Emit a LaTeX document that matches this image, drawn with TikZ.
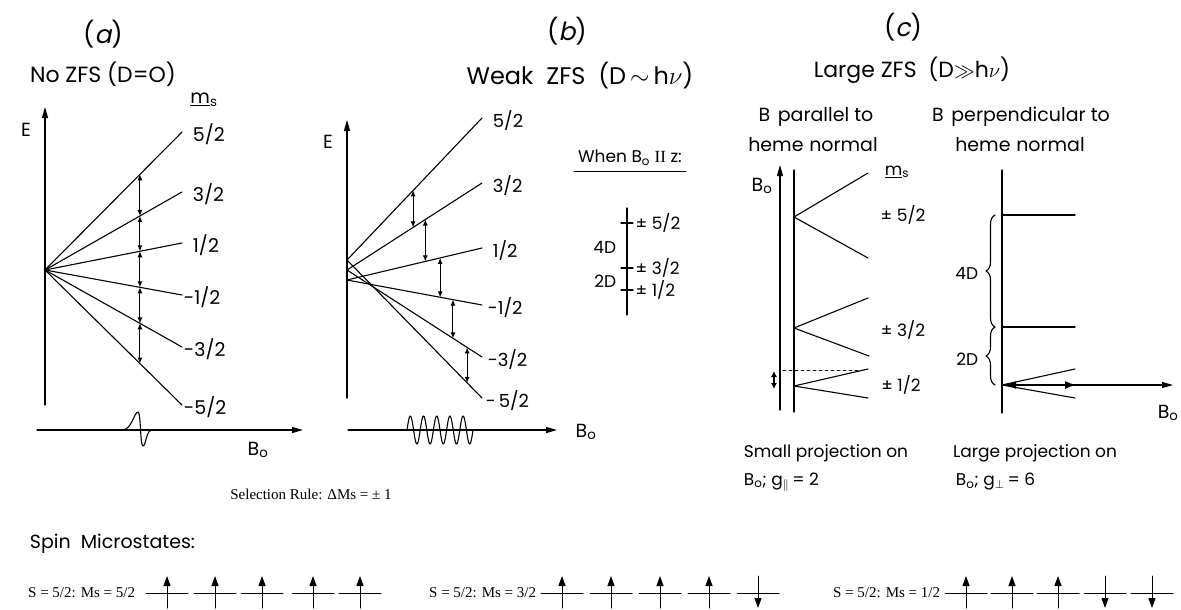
\documentclass[tikz,border=0pt]{standalone}
\usepackage{fontspec}
\setmainfont{Poppins}
\newfontfamily\serif{Liberation Serif}
\newfontfamily\slantsf[FakeSlant=0.2]{Poppins}
\usetikzlibrary{arrows.meta,calc,decorations.pathreplacing}
\newcommand\Bsub{B\textsubscript{o}}
\tikzset{
  lvl/.style={line width=1.1pt},
  axis/.style={-{Triangle[length=11pt,width=6pt]}, line width=1.3pt},
  dbl/.style={{Latex[length=6pt,width=5pt]}-{Latex[length=6pt,width=5pt]}, line width=1pt},
  ttl/.style={font=\fontsize{25}{28}\selectfont},
  lbl/.style={font=\fontsize{17}{20}\selectfont},
  big/.style={font=\fontsize{19}{22}\selectfont},
  srf/.style={font=\serif\fontsize{15}{17}\selectfont},
  brc/.style={decorate, decoration={brace, amplitude=9pt}, line width=1.1pt},
  orb/.style={line width=1pt},
  spin/.style={-{Triangle[length=10pt,width=7pt]}, line width=1pt},
}
\begin{document}
\begin{tikzpicture}[x=1pt, y=-1pt, line cap=round, line join=round, lvl, lbl]

\path[use as bounding box, fill=white] (0,0) rectangle (1181,610);

% panel (a): no zero-field splitting
\node[ttl] (capa) at (103,34) {({\slantsf a})};
\node[font=\fontsize{22}{25}\selectfont] (ttla) at (103,74) {No ZFS (D=O)};
\node[big] (msa) at (204,100) {\underline{m}\textsubscript{s}};
\node[big] (Ea) at (26,130) {E};
\coordinate (a0) at (45,270);
\draw[axis] (45,405) -- (45,107);
\foreach \i/\y/\xl/\lab in {1/132/189/{5/2}, 2/192/189/{3/2}, 3/243/189/{1/2},
                            4/295/180/{-1/2}, 5/347/180/{-3/2}, 6/405/180/{-5/2}} {
  \draw (a0) -- (182,\y) coordinate (ae\i);
  \node[big, anchor=west] (la\i) at (\xl,\y+2) {\lab};
}
\foreach \i in {1,...,5} {
  \pgfmathtruncatemacro\j{\i+1}
  \draw[dbl] ($(a0)!0.693!(ae\i)$) -- ($(a0)!0.693!(ae\j)$);
}
\draw[axis] (37,430) -- (303,430);
\node[big] (Ba) at (258,450) {\Bsub};
\draw (122,430) .. controls (132,430) and (134,412) .. (138,412)
      .. controls (141,412) and (140,446) .. (143,446)
      .. controls (146,446) and (146,430) .. (152,430);

% panel (b): weak zero-field splitting
\node[ttl] (capb) at (567,31) {({\slantsf b})};
\node[ttl, font=\fontsize{24}{27}\selectfont] (ttlb) at (580,76) {Weak\ \ ZFS\ \ (D\,$\sim$\,h$\nu$)};
\node[big] (Eb) at (328,142) {E};
\draw[axis] (347,398) -- (347,120);
\coordinate (b5) at (347,260);
\coordinate (b3) at (347,270);
\coordinate (b1) at (347,280);
\foreach \i/\s/\y/\xl/\lab in {1/b5/118/489/{5/2}, 2/b3/183/489/{3/2}, 3/b1/248/489/{1/2},
                               4/b1/305/484/{-1/2}, 5/b3/357/484/{-3/2}, 6/b5/398/482/{-\,5/2}} {
  \coordinate (bs\i) at (\s);
  \draw (\s) -- (482,\y) coordinate (be\i);
  \node[anchor=west, font=\fontsize{18}{20}\selectfont] (lb\i) at (\xl,\y+3) {\lab};
}
\foreach \i/\t in {1/0.49, 2/0.58, 3/0.69, 4/0.785, 5/0.89} {
  \pgfmathtruncatemacro\j{\i+1}
  \draw[dbl] ($(bs\i)!\t!(be\i)$) -- ($(bs\j)!\t!(be\j)$);
}
\draw[axis] (348,430) -- (557,430);
\node[big] (Bb) at (586,432) {\Bsub};
\draw plot[domain=0:66, samples=160, smooth] ({407+\x}, {430-14*sin(27.27*\x)});

% field along z
\node (when) at (630,158) {When \Bsub\ {\serif II} z:};
\draw ([yshift=-2pt]when.south west) -- ([yshift=-2pt]when.south east);
\draw (627,208) -- (627,315);
\foreach \y/\lab in {223/{± 5/2}, 268/{± 3/2}, 290/{± 1/2}} {
  \draw (621,\y) -- (633,\y);
  \node[anchor=west, inner sep=1pt] at (634,\y) {\lab};
}
\node[anchor=east] (fourD) at (620,247) {4D};
\node[anchor=east] (twoD) at (620,281) {2D};

% panel (c): large zero-field splitting
\node[ttl] (capc) at (903,27) {({\slantsf c})};
\node[font=\fontsize{22}{25}\selectfont] (ttlc) at (912,70) {Large ZFS\ \ (D$\gg$h$\nu$)};
\node[big] (parA) at (816,117) {B\hspace{0.4em}parallel to};
\node[big] (parB) at (813,145) {heme\hspace{0.3em}normal};
\node[big] (perA) at (1021,117) {B\hspace{0.4em}perpendicular to};
\node[big] (perB) at (1020,145) {heme\hspace{0.3em}normal};

% B parallel to heme normal
\draw[axis] (780,410) -- (780,165);
\node[big] (Bc) at (762,186) {\Bsub};
\draw (794,170) -- (794,412);
\coordinate (c5) at (794,217);
\coordinate (c3) at (794,328);
\coordinate (c1) at (794,386);
\draw (868,173) -- (c5) -- (868,258);
\draw (868,298) -- (c3) -- (869,356);
\draw (868,369) -- (c1) -- (868,398);
\draw[dashed, line width=0.9pt] (783,370) -- (860,370);
\draw[{Latex[length=6pt,width=6pt]}-{Latex[length=6pt,width=6pt]}] (774,371) -- (774,389);
\node (msc) at (897,172) {\underline{m}\textsubscript{s}};
\node (lc5) at (903,215) {± 5/2};
\node (lc3) at (903,330) {± 3/2};
\node (lc1) at (901,385) {± 1/2};

% B perpendicular to heme normal
\draw (1002,170) -- (1002,413);
\coordinate (d0) at (1002,385);
\draw (1002,215) -- (1075,215);
\draw (1002,327) -- (1075,327);
\draw (1075,369) -- (d0) -- (1075,398);
\draw[axis] (d0) -- (1173,385);
\node[big, anchor=east, inner sep=1pt] (Bd) at (1180,413) {\Bsub};
\draw[{Latex[length=12pt,width=8pt]}-{Latex[length=12pt,width=8pt]}, line width=2.4pt] (1004,385) -- (1077,385);
\draw[brc] (995,327) -- (995,215);
\draw[brc] (995,385) -- (995,327);
\node[anchor=east] (fourDc) at (982,273) {4D};
\node[anchor=east] (twoDc) at (982,359) {2D};

\node (smA) at (826,453) {Small projection on};
\node[anchor=west] (smB) at (740,482) {\Bsub;\ g\textsubscript{$\parallel$}\,= 2};
\node (lgA) at (1035,453) {Large projection on};
\node[anchor=west] (lgB) at (952,482) {\Bsub;\ g\textsubscript{$\perp$}\,= 6};

% selection rule and microstates
\node[srf] (sel) at (311,494) {Selection Rule: ΔMs = ± 1};
\node[big, anchor=west] (spinms) at (26,544) {Spin\ \ Microstates:};

\node[srf, anchor=east] (row1) at (139,593) {S = 5/2: Ms = 5/2};
\foreach \x/\d in {167/1, 215/1, 262/1, 313/1, 360/1} {
  \draw[orb] ({\x-21},593) -- ({\x+21},593);
  \draw[spin] ({\x},{592+16*(\d)}) -- ({\x},{592-16*(\d)});
}
\node[srf, anchor=east] (row2) at (540,593) {S = 5/2: Ms = 3/2};
\foreach \x/\d in {562/1, 611/1, 660/1, 709/1, 758/-1} {
  \draw[orb] ({\x-21},593) -- ({\x+21},593);
  \draw[spin] ({\x},{592+16*(\d)}) -- ({\x},{592-16*(\d)});
}
\node[srf, anchor=east] (row3) at (944,593) {S = 5/2: Ms = 1/2};
\foreach \x/\d in {966/1, 1012/1, 1058/1, 1105/-1, 1152/-1} {
  \draw[orb] ({\x-21},593) -- ({\x+21},593);
  \draw[spin] ({\x},{592+16*(\d)}) -- ({\x},{592-16*(\d)});
}

\end{tikzpicture}
\end{document}
